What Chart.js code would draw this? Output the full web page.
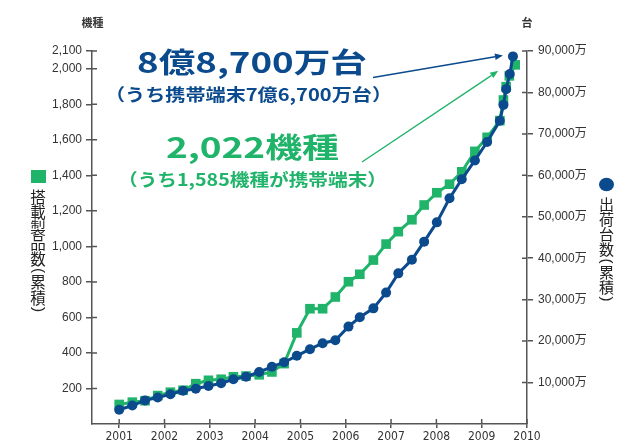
<!DOCTYPE html>
<html><head><meta charset="utf-8">
<script src="https://cdn.jsdelivr.net/npm/chart.js@4/dist/chart.umd.min.js"></script>
<style>html,body{margin:0;padding:0;background:#fff;}canvas{display:block;}</style>
</head><body>
<canvas id="c" width="638" height="445"></canvas>
<script>
// ---- data ----
const greenX = [2001.00,2001.29,2001.57,2001.85,2002.13,2002.41,2002.69,2002.97,2003.25,2003.52,2003.80,2004.09,2004.37,2004.64,2004.92,2005.21,2005.49,2005.77,2006.06,2006.31,2006.61,2006.89,2007.16,2007.46,2007.73,2008.01,2008.29,2008.56,2008.85,2009.12,2009.40,2009.48,2009.54,2009.61,2009.74];
const greenY = [110,123,131,160,179,190,227,246,252,266,270,277,293,340,513,649,649,715,801,843,923,1013,1083,1150,1233,1302,1350,1420,1535,1614,1708,1824,1899,1960,2022];
const blueX  = [2001.00,2001.29,2001.57,2001.85,2002.13,2002.41,2002.69,2002.97,2003.25,2003.52,2003.80,2004.09,2004.37,2004.64,2004.92,2005.21,2005.49,2005.77,2006.06,2006.31,2006.61,2006.89,2007.16,2007.46,2007.73,2008.01,2008.29,2008.56,2008.85,2009.12,2009.40,2009.48,2009.54,2009.62,2009.69];
const blueY  = [3450,4460,5700,6400,7170,8010,8520,9170,9850,10800,11400,12550,13800,14900,16450,18050,19500,20200,23500,25750,27900,31700,36350,39650,44000,48650,54450,59050,63600,68050,73150,77000,80800,84450,88700];
const yearTicks  = [2001,2002,2003,2004,2005,2006,2007,2008,2009,2010];
const leftTicks  = [200,400,600,800,1000,1200,1400,1600,1800,2000,2100];
const rightTicks = [10000,20000,30000,40000,50000,60000,70000,80000,90000];
const leftUnit = '機種', rightUnit = '台', rightSuffix = '万';
const greenName = '搭載製品数（累積）';
const blueName  = '出荷台数（累積）';
const blueHead = '8億8,700万台', blueSub = '（うち携帯端末7億6,700万台）';
const greenHead = '2,022機種', greenSub = '（うち1,585機種が携帯端末）';

const GREEN = '#20b36a', BLUE = '#0b4a8c', AXIS = '#555', TXT = '#333';
const CJK = "'Noto Sans CJK JP', sans-serif";
const NUM = "'Liberation Sans', Arial, 'Noto Sans CJK JP', sans-serif";

const pts = (xs, ys) => xs.map((x, i) => ({x, y: ys[i]}));

function fitText(ctx, txt, cx, cy, font, w, color) {
  ctx.save(); ctx.font = font; ctx.fillStyle = color;
  ctx.textAlign = 'center'; ctx.textBaseline = 'middle';
  const m = ctx.measureText(txt).width; const s = w / m;
  ctx.translate(cx, cy); ctx.scale(s, 1); ctx.fillText(txt, 0, 0); ctx.restore();
}
function arrow(ctx, x1, y1, x2, y2, color) {
  ctx.save(); ctx.strokeStyle = color; ctx.fillStyle = color; ctx.lineWidth = 1.4;
  const a = Math.atan2(y2 - y1, x2 - x1), L = 8, W = 3.2;
  const bx = x2 - L * Math.cos(a), by = y2 - L * Math.sin(a);
  ctx.beginPath(); ctx.moveTo(x1, y1); ctx.lineTo(bx, by); ctx.stroke();
  ctx.beginPath(); ctx.moveTo(x2, y2);
  ctx.lineTo(bx + W * Math.sin(a), by - W * Math.cos(a));
  ctx.lineTo(bx - W * Math.sin(a), by + W * Math.cos(a));
  ctx.closePath(); ctx.fill(); ctx.restore();
}
function vertText(ctx, txt, cx, top, size, color) {
  ctx.save(); ctx.fillStyle = color;
  ctx.textAlign = 'center'; ctx.textBaseline = 'middle';
  let y = top;
  for (const ch of txt) {
    const paren = (ch === '（' || ch === '）');
    if (paren) {
      const step = 8;
      ctx.save(); ctx.font = `${size}px 'Liberation Sans', sans-serif`;
      ctx.translate(cx, y + step / 2); ctx.rotate(Math.PI / 2);
      ctx.fillText(ch === '（' ? '(' : ')', 0, 0); ctx.restore();
      y += step;
    } else {
      ctx.font = `${size}px ${CJK}`;
      ctx.fillText(ch, cx, y + size / 2);
      y += size;
    }
  }
  ctx.restore();
}

const innerTicks = {
  id: 'innerTicks',
  beforeDatasetsDraw(chart) {
    const {ctx, chartArea: ca, scales} = chart;
    ctx.save(); ctx.strokeStyle = AXIS; ctx.lineWidth = 1.5; ctx.beginPath();
    scales.x.ticks.forEach(t => { const p = scales.x.getPixelForValue(t.value); ctx.moveTo(p, ca.bottom); ctx.lineTo(p, ca.bottom - 5); });
    scales.yL.ticks.forEach(t => { const p = scales.yL.getPixelForValue(t.value); ctx.moveTo(ca.left, p); ctx.lineTo(ca.left + 5, p); });
    scales.yR.ticks.forEach(t => { const p = scales.yR.getPixelForValue(t.value); ctx.moveTo(ca.right, p); ctx.lineTo(ca.right - 5, p); });
    ctx.stroke(); ctx.restore();
  }
};

const decor = {
  id: 'decor',
  afterDraw(chart) {
    const {ctx, chartArea: ca, scales} = chart;
    ctx.save(); ctx.font = `bold 11px ${CJK}`; ctx.fillStyle = TXT; ctx.textAlign = 'center'; ctx.textBaseline = 'middle';
    ctx.fillText(leftUnit, ca.left + 0.5, 23);
    ctx.fillText(rightUnit, ca.right, 23);
    ctx.restore();
    ctx.save(); ctx.fillStyle = GREEN; ctx.fillRect(31, 170, 15, 13); ctx.restore();
    vertText(ctx, greenName, 38, 189, 15.5, '#222');
    ctx.save(); ctx.fillStyle = BLUE; ctx.beginPath(); ctx.ellipse(606.5, 184.5, 7.5, 6.8, 0, 0, Math.PI * 2); ctx.fill(); ctx.restore();
    vertText(ctx, blueName, 606.5, 197, 15, '#222');
    fitText(ctx, blueHead, 252, 62, `bold 28px ${CJK}`, 230, BLUE);
    fitText(ctx, blueSub, 248.5, 94.5, `bold 17px ${CJK}`, 287, BLUE);
    fitText(ctx, greenHead, 252.5, 147, `bold 28px ${CJK}`, 173, GREEN);
    fitText(ctx, greenSub, 252.5, 180, `bold 17px ${CJK}`, 269, GREEN);
    const bx = scales.x.getPixelForValue(blueX[blueX.length - 1]);
    const by = scales.yR.getPixelForValue(blueY[blueY.length - 1]);
    arrow(ctx, 373, 77.5, bx - 10, by - 1, BLUE);
    const gx = scales.x.getPixelForValue(greenX[greenX.length - 1]);
    const gy = scales.yL.getPixelForValue(greenY[greenY.length - 1]);
    arrow(ctx, 362, 162, gx - 17, gy + 6, GREEN);
  }
};

const gridOpt = {display: true, drawOnChartArea: false, drawTicks: true, tickLength: 6, color: AXIS, lineWidth: 1.5};
const borderOpt = {display: true, color: AXIS, width: 1.5};

new Chart(document.getElementById('c'), {
  type: 'line',
  data: {
    datasets: [
      {label: blueName, data: pts(blueX, blueY), yAxisID: 'yR', order: 0,
       borderColor: BLUE, backgroundColor: BLUE, borderWidth: 3, pointStyle: 'circle', pointRadius: 5,
       pointBorderWidth: 0, tension: 0, clip: false},
      {label: greenName, data: pts(greenX, greenY), yAxisID: 'yL', order: 1,
       borderColor: GREEN, backgroundColor: GREEN, borderWidth: 3, pointStyle: 'rect', pointRadius: 6.8,
       pointBorderWidth: 0, tension: 0, clip: false}
    ]
  },
  options: {
    responsive: false, animation: false, events: [],
    layout: {padding: {top: 51, left: 0, right: 0, bottom: 0}},
    plugins: {legend: {display: false}, tooltip: {enabled: false}},
    scales: {
      x: {type: 'linear', min: 2000.4, max: 2010,
          afterBuildTicks: s => { s.ticks = yearTicks.map(v => ({value: v})); },
          afterFit: s => { s.height = 21; },
          grid: {...gridOpt, tickLength: 4}, border: borderOpt,
          ticks: {callback: v => String(v), color: TXT, padding: 2, maxRotation: 0, autoSkip: false,
                  font: {family: "'Liberation Sans Narrow', 'DejaVu Sans Condensed', 'Liberation Sans', sans-serif", size: 12}}},
      yL: {type: 'linear', position: 'left', min: 0, max: 2100,
           afterBuildTicks: s => { s.ticks = leftTicks.map(v => ({value: v})); },
           afterFit: s => { s.width = 92; },
           grid: gridOpt, border: borderOpt,
           ticks: {callback: v => v.toLocaleString('en-US'), color: TXT, padding: 4, autoSkip: false,
                   font: {family: NUM, size: 12}}},
      yR: {type: 'linear', position: 'right', min: 0, max: 90000,
           afterBuildTicks: s => { s.ticks = rightTicks.map(v => ({value: v})); },
           afterFit: s => { s.width = 111; },
           grid: gridOpt, border: borderOpt,
           ticks: {callback: v => v.toLocaleString('en-US') + rightSuffix, color: TXT, padding: 5, autoSkip: false,
                   font: {family: NUM, size: 12}}}
    }
  },
  plugins: [innerTicks, decor]
});
</script>
</body></html>
